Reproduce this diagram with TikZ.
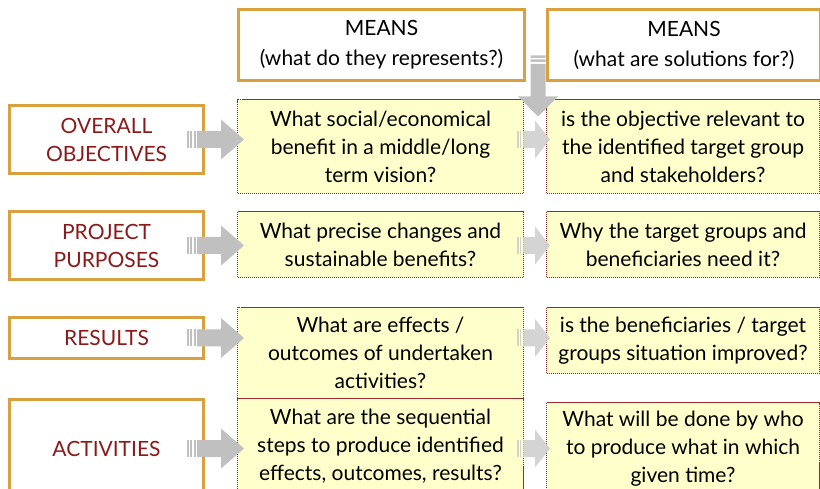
\documentclass[tikz,border=0pt]{standalone}
\usepackage{fontspec}
\setmainfont{Lato}
\usetikzlibrary{calc}

\definecolor{boxorange}{HTML}{D9A03F}
\definecolor{labelred}{HTML}{8B1A1A}
\definecolor{askyellow}{HTML}{FFFFCC}
\definecolor{askred}{HTML}{9B2B2B}
\definecolor{arrowgrey}{HTML}{C0C0C0}
\definecolor{arrowlight}{HTML}{CFCFCF}

% wide block arrow from a row label to its question box
\newcommand{\bigarrow}[2]{%
  \fill[arrowgrey] let \p1 = (#1.east), \p2 = (#2.west) in
    (\x1-8pt,\y1+8.5pt) -- (\x2-16pt,\y1+8.5pt) -- (\x2-16pt,\y1+20pt)
    -- (\x2+7pt,\y1) -- (\x2-16pt,\y1-20pt) -- (\x2-16pt,\y1-8.5pt)
    -- (\x1-8pt,\y1-8.5pt) -- cycle;
  \foreach \k in {18.5,15,11.5}
    \fill[arrowgrey] let \p1 = (#1.east) in
      (\x1-\k pt,\y1-8.5pt) rectangle (\x1-\k pt+2pt,\y1+8.5pt);
}
% smaller arrow between the two question columns
\newcommand{\smallarrow}[3]{%
  \fill[arrowlight, opacity=0.9] let \p1 = (#1.east), \p2 = (#2.west), \p3 = (#3.east) in
    (\x1-1pt,\y3+8.5pt) -- (\x2-11pt,\y3+8.5pt) -- (\x2-11pt,\y3+19pt)
    -- (\x2+4pt,\y3) -- (\x2-11pt,\y3-19pt) -- (\x2-11pt,\y3-8.5pt)
    -- (\x1-1pt,\y3-8.5pt) -- cycle;
  \foreach \k in {7,4.5}
    \fill[arrowlight, opacity=0.9] let \p1 = (#1.east), \p3 = (#3.east) in
      (\x1-\k pt,\y3-8.5pt) rectangle (\x1-\k pt+1.5pt,\y3+8.5pt);
}

\begin{document}
\begin{tikzpicture}[x = 1pt, y = -1pt,
    every node/.style = {font = \fontsize{21}{28}\selectfont},
    means/.style = {draw = boxorange, line width = 3pt, fill = white, inner sep = 0pt,
                    align = center, anchor = north west, font = \fontsize{21}{30}\selectfont},
    rowbox/.style = {draw = boxorange, line width = 3pt, fill = white, text = labelred,
                     inner sep = 0pt, align = center, anchor = north west, minimum width = 194pt},
    ask/.style = {draw = askred, line width = 1pt, dash pattern = on 1.5pt off 0.5pt,
                  fill = askyellow, inner sep = 0pt, align = center, anchor = north west}]
  \clip (0,0) rectangle (820,489);

  % column heads
  \node [means, minimum width = 286pt, minimum height = 71pt] (means1) at (237,8)
        {MEANS\\(what do they represents?)};
  \node [means, minimum width = 273pt, minimum height = 71pt] (means2) at (546,8)
        {MEANS\\(what are solutions for?)};

  % row labels
  \node [rowbox, minimum height = 68pt] (overall) at (8,104) {OVERALL\\OBJECTIVES};
  \node [rowbox, minimum height = 68pt] (purposes) at (8,210) {PROJECT\\PURPOSES};
  \node [rowbox, minimum height = 41pt] (results) at (8,316) {RESULTS};
  \node [rowbox, minimum height = 98pt] (activities) at (8,398) {ACTIVITIES};

  % first column of questions
  \node [ask, minimum width = 286pt, minimum height = 94pt] (ask1) at (237,99)
        {What social/economical\\benefit in a middle/long\\term vision?};
  \node [ask, minimum width = 286pt, minimum height = 66pt] (ask2) at (237,211)
        {What precise changes and\\sustainable benefits?};
  \node [ask, minimum width = 286pt, minimum height = 91pt] (ask3) at (237,307)
        {What are effects /\\outcomes of undertaken\\activities?};
  \node [ask, minimum width = 286pt, minimum height = 95pt] (ask4) at (237,398)
        {What are the sequential\\steps to produce identified\\effects, outcomes, results?};

  % second column of questions
  \node [ask, minimum width = 273pt, minimum height = 94pt] (sol1) at (546,99)
        {is the objective relevant to\\the identified target group\\and stakeholders?};
  \node [ask, minimum width = 273pt, minimum height = 66pt] (sol2) at (546,211)
        {Why the target groups and\\beneficiaries need it?};
  \node [ask, minimum width = 273pt, minimum height = 66pt] (sol3) at (546,307)
        {is the beneficiaries / target\\groups situation improved?};
  \node [ask, minimum width = 273pt, minimum height = 92pt] (sol4) at (546,402)
        {What will be done by who\\to produce what in which\\given time?};

  % downward arrow between the heads
  \fill[arrowgrey] let \p1 = (means1.east), \p2 = (means2.west), \n1 = {(\x1+\x2)/2+2pt} in
    (\n1-7.5pt,\y1-19pt) -- (\n1-7.5pt,\y1-51.5pt) -- (\n1-20pt,\y1-51.5pt)
    -- (\n1,\y1-71.5pt) -- (\n1+20pt,\y1-51.5pt) -- (\n1+7.5pt,\y1-51.5pt)
    -- (\n1+7.5pt,\y1-19pt) -- cycle
    (\n1-7.5pt,\y1-10.5pt) rectangle (\n1+7.5pt,\y1-13pt)
    (\n1-7.5pt,\y1-14.5pt) rectangle (\n1+7.5pt,\y1-17pt);

  \bigarrow{overall}{ask1}
  \bigarrow{purposes}{ask2}
  \bigarrow{results}{ask3}
  \bigarrow{activities}{ask4}

  \smallarrow{ask1}{sol1}{overall}
  \smallarrow{ask2}{sol2}{purposes}
  \smallarrow{ask3}{sol3}{results}
  \smallarrow{ask4}{sol4}{activities}
\end{tikzpicture}
\end{document}
